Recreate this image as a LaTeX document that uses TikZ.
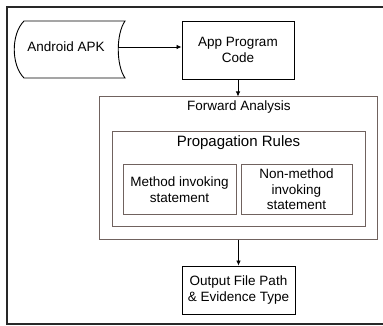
\documentclass[tikz,border=0pt]{standalone}
\usepackage{fontspec}
\setmainfont{Liberation Sans}
\usetikzlibrary{arrows.meta}
\definecolor{frm}{RGB}{40,40,40}
\definecolor{brn}{RGB}{112,98,94}
\tikzset{
  base/.style={font=\fontsize{13.5}{15.5}\selectfont, align=center, inner sep=0pt},
  blk/.style={base, draw=black, line width=0.9pt},
  brbox/.style={base, draw=brn, line width=1pt},
  arr/.style={-{Latex[length=5pt,width=4.5pt]}, line width=0.8pt, black},
}
\begin{document}
\begin{tikzpicture}[x=1pt,y=-1pt]
\useasboundingbox (0,0) rectangle (383,326);
\draw[frm, line width=1.2pt] (392,7) -- (7,7) -- (7,324) -- (392,324);
% Android APK stored-data shape
\draw[black, line width=0.9pt] (24,21) -- (125,21)
  .. controls (116,34) and (116,65) .. (125,78) -- (24,78)
  .. controls (11,65) and (11,34) .. (24,21) -- cycle;
\node[base, minimum width=104pt, minimum height=20pt] (apk) at (66,47) {Android APK};
% App Program Code
\node[blk, minimum width=112pt, minimum height=58pt] (app) at (238,50) {App Program\\Code};
% Forward analysis
\node[brbox, minimum width=278pt, minimum height=142pt] (fa) at (238,168) {};
\node[base] (fat) at (239,107.5) {Forward Analysis};
\node[brbox, minimum width=253pt, minimum height=94pt] (pr) at (238.5,179) {};
\node[base, font=\fontsize{15}{17}\selectfont] (prt) at (238.5,143) {Propagation Rules};
\node[brbox, minimum width=113pt, minimum height=49pt] (mi) at (179.5,189.5) {Method invoking\\statement};
\node[brbox, minimum width=111pt, minimum height=49pt] (nm) at (296.5,189.5) {Non-method\\invoking\\statement};
% Output
\node[blk, minimum width=113pt, minimum height=48pt] (out) at (238.5,290) {Output File Path\\\& Evidence Type};
% arrows
\draw[arr] (apk.east) -- (apk.east -| app.west);
\draw[arr] (app.south) -- (app.south |- fa.north);
\draw[arr] (fa.south -| out.north) -- (out.north);
\end{tikzpicture}
\end{document}
